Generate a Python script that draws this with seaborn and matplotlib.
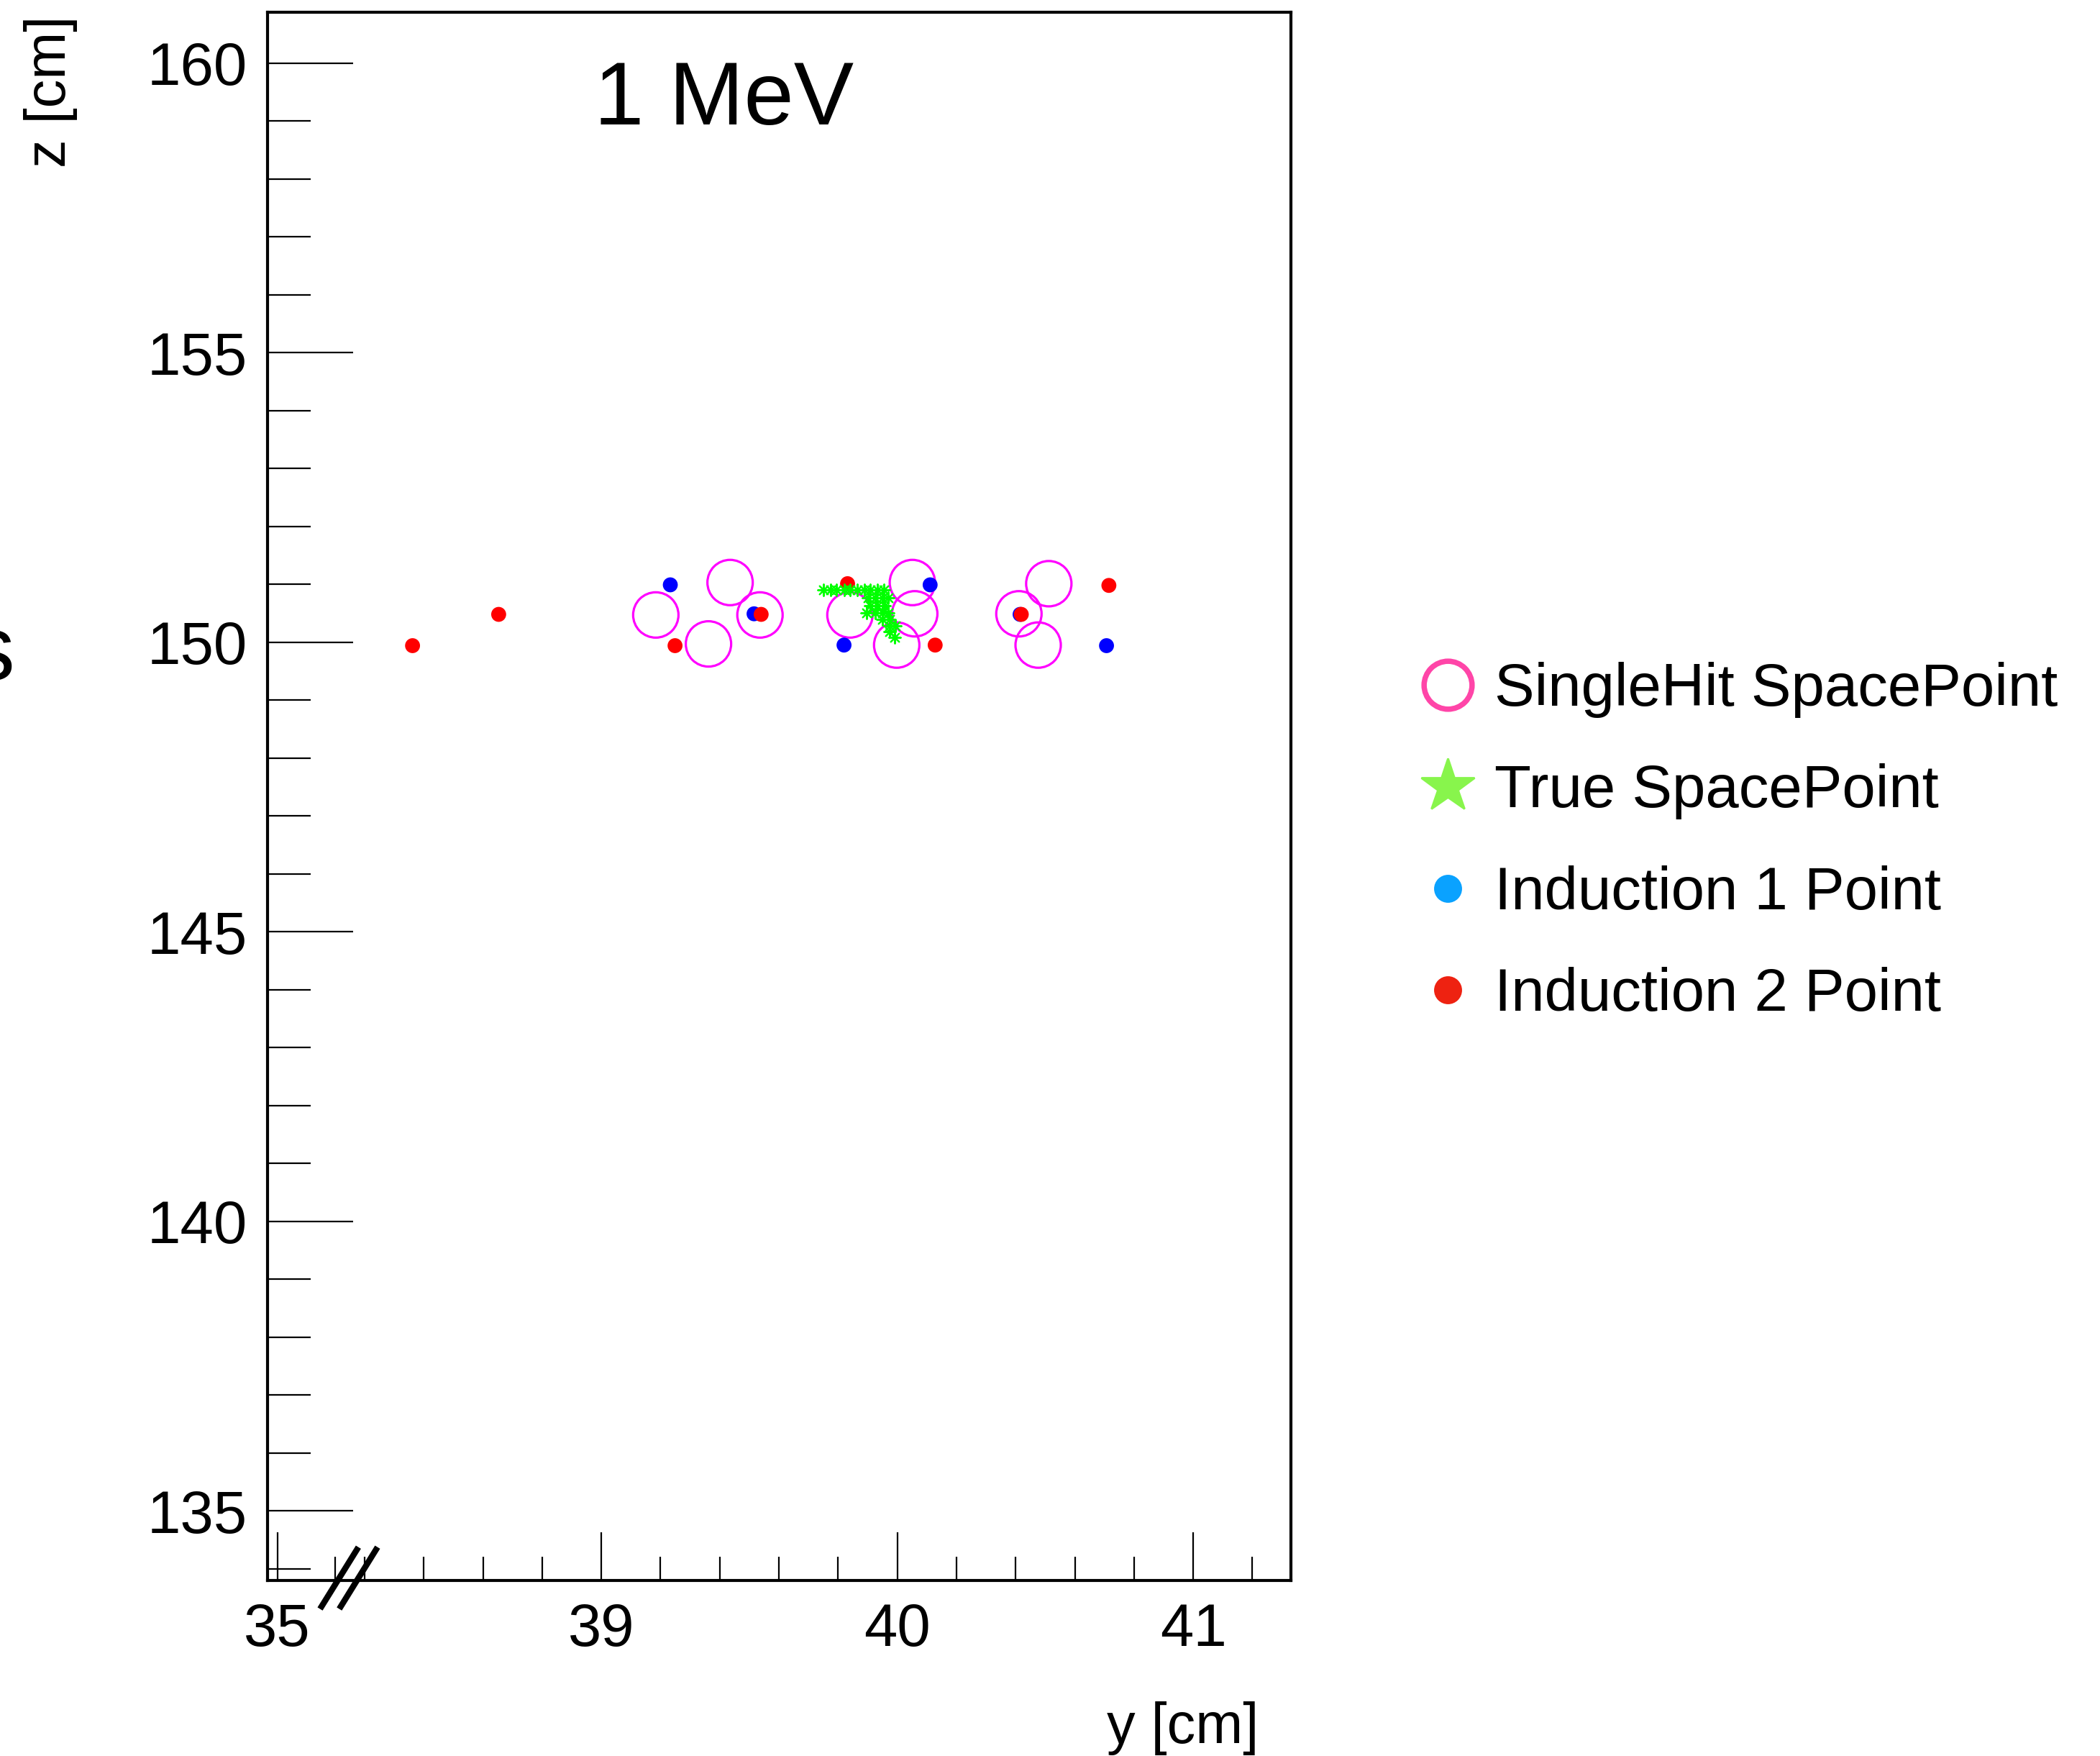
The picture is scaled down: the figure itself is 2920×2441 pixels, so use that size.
import numpy as np
import pandas as pd
import matplotlib
matplotlib.use("Agg")
import matplotlib.pyplot as plt
import seaborn as sns
from matplotlib.lines import Line2D

# ---------------- data ----------------
singlehit_y = [39.184, 39.435, 39.536, 39.362, 39.840, 40.051, 40.059, 39.998, 40.411, 40.512, 40.476]
singlehit_z = [150.47, 151.03, 150.47, 149.97, 150.47, 151.03, 150.49, 149.95, 150.49, 151.01, 149.95]

true_y = [39.751, 39.775, 39.795, 39.820, 39.840, 39.864, 39.888, 39.909, 39.933, 39.954,
          39.901, 39.925, 39.949, 39.970,
          39.909, 39.933, 39.958,
          39.897, 39.925, 39.949, 39.970,
          39.949, 39.974,
          39.974, 39.994,
          39.974,
          39.990]
true_z = [150.90] * 10 + [150.76] * 4 + [150.63] * 3 + [150.51] * 4 + [150.39] * 2 + [150.28] * 2 + [150.18] + [150.08]

ind1_y = [39.233, 39.516, 39.820, 40.111, 40.415, 40.707]
ind1_z = [150.99, 150.49, 149.95, 150.99, 150.48, 149.94]

ind2_y = [38.362, 38.653, 39.249, 39.540, 39.832, 40.128, 40.419, 40.715]
ind2_z = [149.94, 150.48, 149.94, 150.48, 151.01, 149.95, 150.48, 150.98]

x_major_pos = [37.905, 39, 40, 41]
x_major_labels = ["35", "39", "40", "41"]
x_minor_pos = [38.1, 38.2, 38.4, 38.6, 38.8, 39.2, 39.4, 39.6, 39.8,
               40.2, 40.4, 40.6, 40.8, 41.2]
y_major = [135, 140, 145, 150, 155, 160]
y_minor = [v for v in range(134, 161) if v not in y_major]

legend_labels = ["SingleHit SpacePoint", "True SpacePoint", "Induction 1 Point", "Induction 2 Point"]

# ---------------- style ----------------
sns.set_theme(style="white")
FONT = ["Liberation Sans", "DejaVu Sans"]
plt.rcParams["font.family"] = FONT
plt.rcParams["text.color"] = "black"
plt.rcParams["axes.labelcolor"] = "black"
plt.rcParams["xtick.color"] = "black"
plt.rcParams["ytick.color"] = "black"

fig = plt.figure(figsize=(14.6, 12.205), dpi=200)
ax = fig.add_axes([0.1274, 0.1000, 0.4873, 0.8930])

sh = pd.DataFrame({"y": singlehit_y, "z": singlehit_z})
tr = pd.DataFrame({"y": true_y, "z": true_z})
i1 = pd.DataFrame({"y": ind1_y, "z": ind1_z})
i2 = pd.DataFrame({"y": ind2_y, "z": ind2_z})

sns.scatterplot(data=sh, x="y", y="z", ax=ax, marker="o", s=515,
                facecolors="none", edgecolor="#FF00FF", linewidth=1.15, zorder=3)
sns.scatterplot(data=i1, x="y", y="z", ax=ax, marker="o", s=56,
                color="#0000FF", edgecolor="none", zorder=4)
sns.scatterplot(data=i2, x="y", y="z", ax=ax, marker="o", s=56,
                color="#FF0000", edgecolor="none", zorder=5)
sns.scatterplot(data=tr, x="y", y="z", ax=ax, marker=(8, 2, 0), s=34,
                color="#00FF00", linewidth=0.8, zorder=6)
for c in ax.collections[:1]:
    c.set_facecolor("none")

ax.set_xlim(37.872, 41.330)
ax.set_ylim(133.80, 160.876)
ax.set_xlabel("")
ax.set_ylabel("")

ax.set_xticks(x_major_pos)
ax.set_xticklabels(x_major_labels)
ax.set_xticks(x_minor_pos, minor=True)
ax.set_yticks(y_major)
ax.set_yticklabels([str(v) for v in y_major])
ax.set_yticks(y_minor, minor=True)

ax.tick_params(axis="x", which="major", direction="in", length=24, width=0.8,
               pad=11, labelsize=30, colors="black", bottom=True, top=False)
ax.tick_params(axis="x", which="minor", direction="in", length=12, width=0.8,
               bottom=True, top=False, colors="black")
ax.tick_params(axis="y", which="major", direction="in", length=43, width=0.8,
               pad=10, labelsize=30, colors="black", left=True, right=False)
ax.tick_params(axis="y", which="minor", direction="in", length=21.5, width=0.8,
               left=True, right=False, colors="black")
for lab in ax.get_xticklabels() + ax.get_yticklabels():
    lab.set_family(FONT)
    lab.set_color("black")

for sp in ax.spines.values():
    sp.set_visible(True)
    sp.set_color("black")
    sp.set_linewidth(1.5)
ax.grid(False)

# axis break marks
for xs in ([0.0513, 0.0888], [0.0701, 0.1075]):
    ax.plot(xs, [-0.0182, 0.0212], transform=ax.transAxes, color="black",
            lw=3.0, solid_capstyle="butt", clip_on=False, zorder=10)

# texts
fig.text(1006.5 / 2920, 1 - 173.2 / 2441, "1 MeV", ha="center", va="baseline",
         fontsize=45, family=FONT, color="black")
fig.text(70 / 2920, 1 - 22 / 2441, "z [cm]", rotation=90, ha="center", va="top",
         fontsize=28.5, family=FONT, color="black")
fig.text(1750 / 2920, 1 - 2402 / 2441, "y [cm]", ha="right", va="center",
         fontsize=28.5, family=FONT, color="black")
fig.text(20 / 2920, 1 - 945 / 2441, "s", ha="right", va="baseline",
         fontsize=46, family=FONT, color="black")

# legend
handles = [
    Line2D([], [], linestyle="none", marker="o", markersize=24, markerfacecolor="none",
           markeredgecolor="#FF45A8", markeredgewidth=2.7),
    Line2D([], [], linestyle="none", marker="*", markersize=28, color="#88F54C"),
    Line2D([], [], linestyle="none", marker="o", markersize=13, color="#0AA2FF"),
    Line2D([], [], linestyle="none", marker="o", markersize=13, color="#EE2211"),
]
leg = fig.legend(handles, legend_labels, loc="upper left",
                 bbox_to_anchor=(1971.5 / 2920, 1 - 920 / 2441),
                 bbox_transform=fig.transFigure, frameon=False,
                 handlelength=1.0, handletextpad=0.28, labelspacing=0.76,
                 borderpad=0, borderaxespad=0, prop={"family": FONT, "size": 30})
for t in leg.get_texts():
    t.set_color("black")

fig.savefig("out.png", dpi=200, facecolor="white")
